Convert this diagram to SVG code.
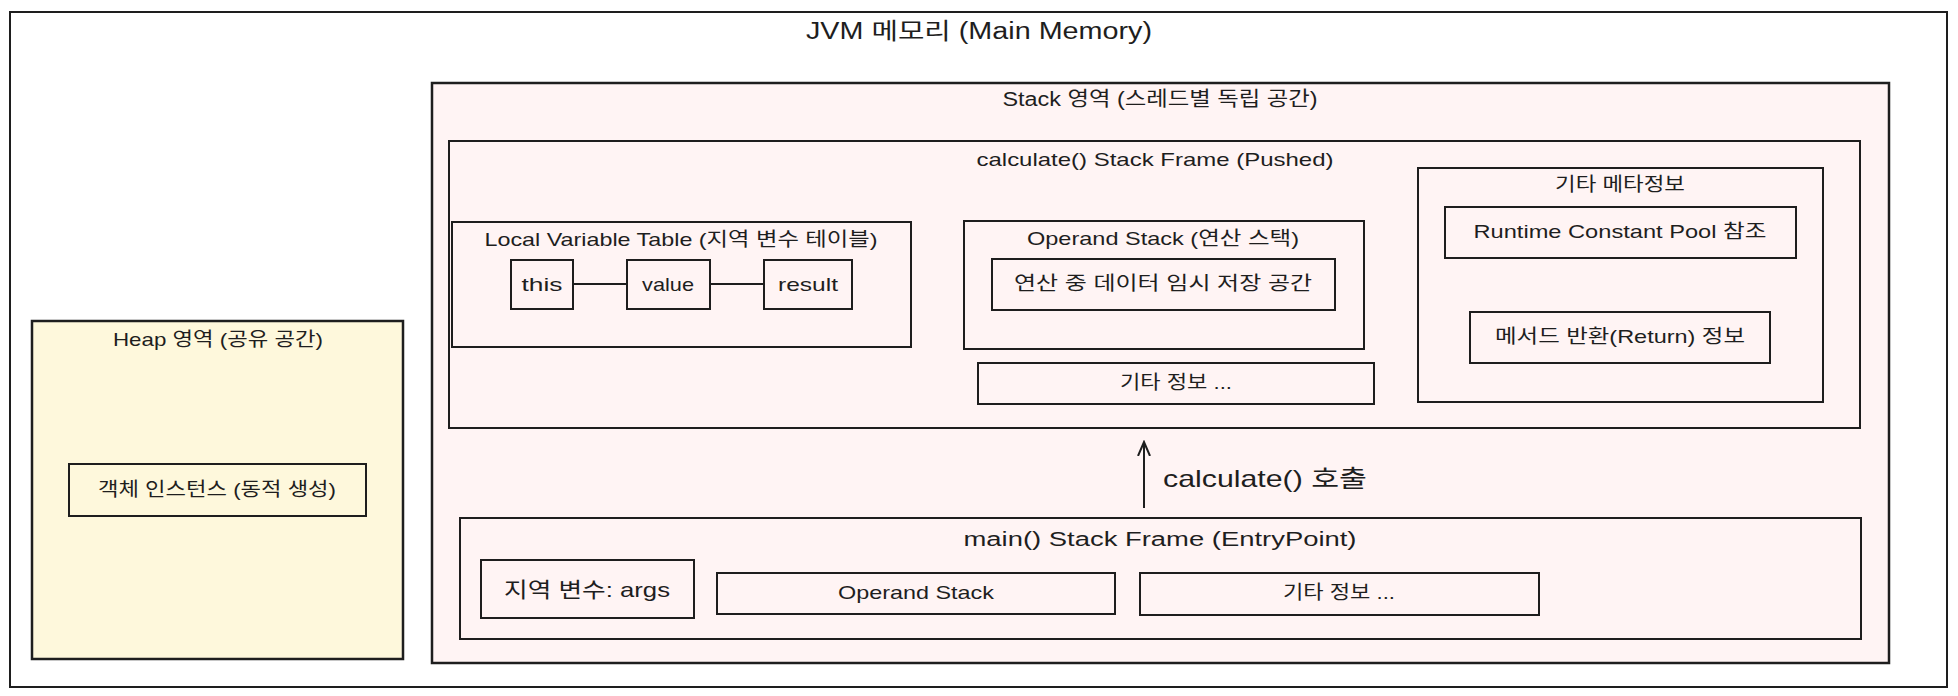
<svg xmlns="http://www.w3.org/2000/svg" width="1958" height="696" viewBox="0 0 1958 696">
<defs>
<style>
text{font-family:"Liberation Sans","Noto Sans CJK KR",sans-serif;fill:#1e1e1e;text-anchor:middle}
.w{fill:#ffffff;stroke:#1e1e1e;stroke-width:2}
.p{fill:#fff4f4;stroke:#1e1e1e;stroke-width:2.5}
.pi{fill:#fff4f4;stroke:#1e1e1e;stroke-width:2}
.y{fill:#fef8dc;stroke:#1e1e1e;stroke-width:2.5}
.yi{fill:#fef8dc;stroke:#1e1e1e;stroke-width:2}
.t20{font-size:20px}
.t19{font-size:19px}
.line{fill:none;stroke:#1e1e1e;stroke-width:2}
</style>
<marker id="arr" markerWidth="16" markerHeight="16" refX="14" refY="8" orient="auto" markerUnits="userSpaceOnUse">
<path d="M0,2 L14,8 L0,14" fill="none" stroke="#1e1e1e" stroke-width="2"/>
</marker>
</defs>
<rect width="1958" height="696" fill="#ffffff"/>
<g id="jvm">
<rect class="w" x="10" y="12" width="1937" height="675" stroke-width="2.5"/>
<text x="979" y="39" style="font-size:23px" textLength="346" lengthAdjust="spacingAndGlyphs">JVM 메모리 (Main Memory)</text>
</g>
<g id="heap">
<rect class="y" x="32" y="321" width="371" height="338"/>
<text class="t19" x="218" y="346" textLength="210" lengthAdjust="spacingAndGlyphs">Heap 영역 (공유 공간)</text>
</g>
<g id="heap-object">
<rect class="yi" x="69" y="464" width="297" height="52"/>
<text class="t19" x="217" y="496" textLength="238" lengthAdjust="spacingAndGlyphs">객체 인스턴스 (동적 생성)</text>
</g>
<g id="stack">
<rect class="p" x="432" y="83" width="1457" height="580"/>
<text class="t20" x="1160" y="106" textLength="315" lengthAdjust="spacingAndGlyphs">Stack 영역 (스레드별 독립 공간)</text>
</g>
<g id="calc-frame">
<rect class="pi" x="449" y="141" width="1411" height="287"/>
<text class="t19" x="1155" y="166" textLength="357" lengthAdjust="spacingAndGlyphs">calculate() Stack Frame (Pushed)</text>
</g>
<g id="lvt">
<rect class="pi" x="452" y="222" width="459" height="125"/>
<text class="t19" x="681" y="246" textLength="393" lengthAdjust="spacingAndGlyphs">Local Variable Table (지역 변수 테이블)</text>
</g>
<g id="lvt-this">
<rect class="pi" x="511" y="260" width="62" height="49"/>
<text class="t19" x="542" y="291" textLength="41" lengthAdjust="spacingAndGlyphs">this</text>
</g>
<g id="lvt-value">
<rect class="pi" x="627" y="260" width="83" height="49"/>
<text class="t19" x="668" y="291" textLength="52" lengthAdjust="spacingAndGlyphs">value</text>
</g>
<g id="lvt-result">
<rect class="pi" x="764" y="260" width="88" height="49"/>
<text class="t19" x="808" y="291" textLength="60" lengthAdjust="spacingAndGlyphs">result</text>
</g>
<g id="operand">
<rect class="pi" x="964" y="221" width="400" height="128"/>
<text class="t19" x="1163" y="245" textLength="272" lengthAdjust="spacingAndGlyphs">Operand Stack (연산 스택)</text>
</g>
<g id="operand-data">
<rect class="pi" x="992" y="259" width="343" height="51"/>
<text class="t19" x="1163" y="290" textLength="298" lengthAdjust="spacingAndGlyphs">연산 중 데이터 임시 저장 공간</text>
</g>
<g id="calc-etc">
<rect class="pi" x="978" y="363" width="396" height="41"/>
<text class="t19" x="1176" y="389" textLength="112" lengthAdjust="spacingAndGlyphs">기타 정보 ...</text>
</g>
<g id="meta">
<rect class="pi" x="1418" y="168" width="405" height="234"/>
<text class="t19" x="1620" y="191" textLength="130" lengthAdjust="spacingAndGlyphs">기타 메타정보</text>
</g>
<g id="meta-pool">
<rect class="pi" x="1445" y="207" width="351" height="51"/>
<text class="t19" x="1620" y="238" textLength="293" lengthAdjust="spacingAndGlyphs">Runtime Constant Pool 참조</text>
</g>
<g id="meta-return">
<rect class="pi" x="1470" y="312" width="300" height="51"/>
<text class="t19" x="1620" y="343" textLength="250" lengthAdjust="spacingAndGlyphs">메서드 반환(Return) 정보</text>
</g>
<g id="main-frame">
<rect class="pi" x="460" y="518" width="1401" height="121"/>
<text class="t20" x="1160" y="546" textLength="393" lengthAdjust="spacingAndGlyphs">main() Stack Frame (EntryPoint)</text>
</g>
<g id="main-locals">
<rect class="pi" x="481" y="560" width="213" height="58"/>
<text x="587" y="597" style="font-size:21px" textLength="166" lengthAdjust="spacingAndGlyphs">지역 변수: args</text>
</g>
<g id="main-operand">
<rect class="pi" x="717" y="573" width="398" height="41"/>
<text class="t19" x="916" y="599" textLength="156" lengthAdjust="spacingAndGlyphs">Operand Stack</text>
</g>
<g id="main-etc">
<rect class="pi" x="1140" y="573" width="399" height="42"/>
<text class="t19" x="1339" y="599" textLength="112" lengthAdjust="spacingAndGlyphs">기타 정보 ...</text>
</g>
<g id="connectors">
<path class="line" d="M573,284 L627,284"/>
<path class="line" d="M710,284 L764,284"/>
<path class="line" d="M1144,508 L1144,442" marker-end="url(#arr)"/>
<text x="1163" y="487" style="font-size:24px;text-anchor:start" textLength="204" lengthAdjust="spacingAndGlyphs">calculate() 호출</text>
</g>
</svg>
